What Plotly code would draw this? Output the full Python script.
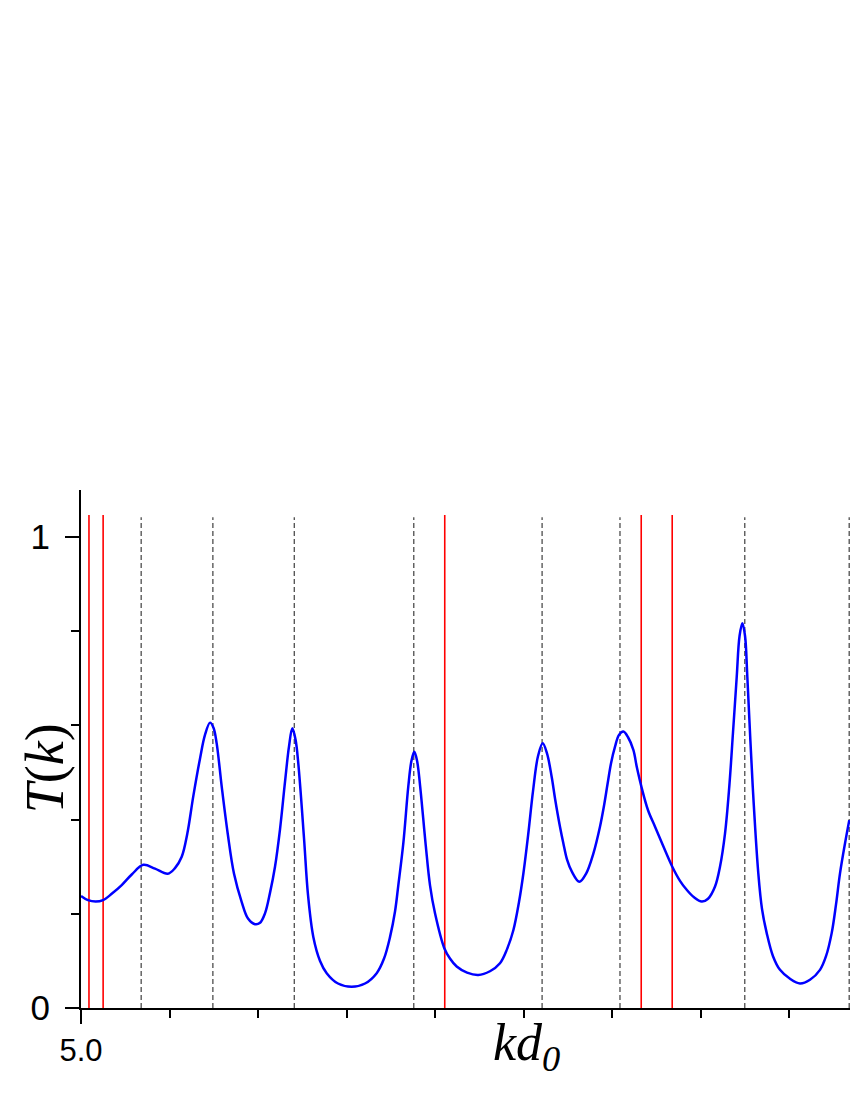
import plotly.graph_objects as go

# transmission curve T(k)
kd = [5.0000, 5.0079, 5.0166, 5.0249, 5.0350, 5.0460, 5.0576, 5.0704, 5.0836,
      5.0980, 5.1062, 5.1138, 5.1201, 5.1269, 5.1345, 5.1401, 5.1458, 5.1497,
      5.1533, 5.1590, 5.1658, 5.1729, 5.1816, 5.1887, 5.1966, 5.2023, 5.2079,
      5.2136, 5.2192, 5.2249, 5.2305, 5.2350, 5.2388, 5.2424, 5.2455, 5.2520,
      5.2565, 5.2625, 5.2701, 5.2776, 5.2904, 5.3059, 5.3209, 5.3341, 5.3424,
      5.3492, 5.3548, 5.3585, 5.3642, 5.3698, 5.3734, 5.3766, 5.3797, 5.3831,
      5.3895, 5.3944, 5.4000, 5.4105, 5.4169, 5.4245, 5.4362, 5.4489, 5.4621,
      5.4734, 5.4814, 5.4885, 5.4949, 5.4998, 5.5054, 5.5107, 5.5164, 5.5217,
      5.5266, 5.5319, 5.5356, 5.5412, 5.5450, 5.5492, 5.5545, 5.5631, 5.5706,
      5.5789, 5.5864, 5.5910, 5.5949, 5.5989, 5.6034, 5.6079, 5.6128, 5.6181,
      5.6241, 5.6282, 5.6336, 5.6407, 5.6486, 5.6576, 5.6681, 5.6768, 5.6844,
      5.6927, 5.7014, 5.7085, 5.7164, 5.7220, 5.7277, 5.7325, 5.7367, 5.7409,
      5.7441, 5.7473, 5.7503, 5.7529, 5.7590, 5.7653, 5.7695, 5.7748, 5.7819,
      5.7898, 5.8011, 5.8124, 5.8237, 5.8350, 5.8418, 5.8482, 5.8531, 5.8576,
      5.8633, 5.8681]
T = [0.238, 0.229, 0.226, 0.229, 0.243, 0.261, 0.284, 0.304, 0.296,
     0.285, 0.297, 0.321, 0.370, 0.450, 0.530, 0.580, 0.606, 0.595,
     0.562, 0.470, 0.370, 0.285, 0.225, 0.190, 0.178, 0.181, 0.201,
     0.245, 0.300, 0.380, 0.480, 0.555, 0.594, 0.570, 0.520, 0.360,
     0.240, 0.151, 0.100, 0.074, 0.052, 0.045, 0.052, 0.074, 0.105,
     0.151, 0.205, 0.260, 0.350, 0.470, 0.525, 0.544, 0.525, 0.473,
     0.346, 0.260, 0.201, 0.127, 0.105, 0.088, 0.075, 0.070, 0.078,
     0.095, 0.125, 0.165, 0.225, 0.285, 0.370, 0.460, 0.535, 0.562,
     0.540, 0.490, 0.445, 0.385, 0.350, 0.315, 0.290, 0.268, 0.285,
     0.328, 0.385, 0.430, 0.475, 0.520, 0.555, 0.580, 0.587, 0.575,
     0.548, 0.510, 0.467, 0.420, 0.385, 0.345, 0.300, 0.270, 0.251,
     0.235, 0.226, 0.232, 0.258, 0.300, 0.371, 0.470, 0.585, 0.703,
     0.790, 0.817, 0.790, 0.703, 0.470, 0.286, 0.210, 0.159, 0.110,
     0.081, 0.062, 0.052, 0.060, 0.081, 0.110, 0.159, 0.220, 0.286,
     0.350, 0.399]

red_lines = [5.009, 5.025, 5.411, 5.633, 5.668]
dashed_lines = [5.068, 5.149, 5.241, 5.376, 5.521, 5.609, 5.750, 5.868]
red_top = 1.047
dashed_top = 1.042


def vlines(xs, top):
    x, y = [], []
    for v in xs:
        x += [v, v, None]
        y += [0, top, None]
    return x, y


fig = go.Figure()

dx, dy = vlines(dashed_lines, dashed_top)
fig.add_trace(go.Scatter(x=dx, y=dy, mode="lines",
                         line=dict(color="#4d4d4d", width=1.3, dash="5px,3px"),
                         hoverinfo="skip", showlegend=False))
rx, ry = vlines(red_lines, red_top)
fig.add_trace(go.Scatter(x=rx, y=ry, mode="lines",
                         line=dict(color="#ff0000", width=1.6),
                         hoverinfo="skip", showlegend=False))
fig.add_trace(go.Scatter(x=kd, y=T, mode="lines",
                         line=dict(color="#0000ff", width=2.5, shape="spline", smoothing=1.0),
                         showlegend=False))

fig.update_layout(
    width=850, height=1100,
    margin=dict(l=81, r=0, t=490, b=92),
    plot_bgcolor="white", paper_bgcolor="white",
    font=dict(family="Liberation Sans, Arial", color="black"),
    xaxis=dict(
        range=[5.0, 5.8689], showgrid=False, zeroline=False,
        showline=True, linecolor="black", linewidth=2,
        tickmode="array", tickvals=[5.0], ticktext=["5.0"],
        ticks="outside", ticklen=14, tickwidth=2, tickcolor="black",
        tickfont=dict(size=31),
        minor=dict(dtick=0.1, tick0=5.0, ticks="outside", ticklen=8,
                   tickwidth=2, tickcolor="black", showgrid=False),
    ),
    yaxis=dict(
        range=[0, 1.1], showgrid=False, zeroline=False,
        showline=True, linecolor="black", linewidth=2,
        tickmode="array", tickvals=[0, 1], ticktext=["0", "1"],
        ticks="outside", ticklen=14, tickwidth=2, tickcolor="black",
        tickfont=dict(size=35), ticklabelstandoff=8,
        minor=dict(dtick=0.2, tick0=0, ticks="outside", ticklen=8,
                   tickwidth=2, tickcolor="black", showgrid=False),
    ),
    annotations=[
        dict(text="<i>T</i>(<i>k</i>)", xref="paper", yref="paper",
             x=-0.0468, y=0.463, xanchor="center", yanchor="middle",
             showarrow=False, textangle=-90,
             font=dict(family="Liberation Serif, Times New Roman", size=54)),
        dict(text="<i>kd</i><sub><i>0</i></sub>", xref="paper", yref="paper",
             x=0.579, y=-0.007, xanchor="center", yanchor="top", showarrow=False,
             font=dict(family="Liberation Serif, Times New Roman", size=52)),
    ],
)

# drop the page's default body margin so the figure fills the window exactly
fig.write_html("out.html", config={"displayModeBar": False},
               post_script="document.body.style.margin='0';document.body.style.overflow='hidden';")
